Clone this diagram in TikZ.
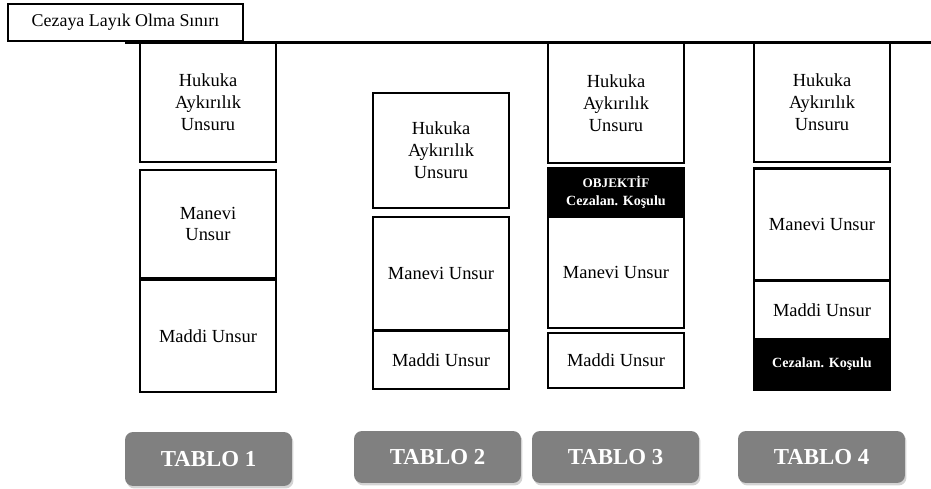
\documentclass[tikz,border=0pt]{standalone}
\usepackage{fontspec}
\setmainfont{Liberation Serif}
\usepackage{xcolor}
\usetikzlibrary{positioning, shadows}

\definecolor{tablogri}{HTML}{808080}

\tikzset{
	unsur/.style={draw, line width=1.3pt, fill=white, align=center, inner sep=0pt, outer sep=0pt,
		minimum width=2.72cm, font=\fontsize{10.5}{12.5}\selectfont},
	kosul/.style={draw, line width=1.3pt, fill=black, text=white, align=center, inner sep=0pt, outer sep=0pt,
		minimum width=2.72cm, font=\bfseries\fontsize{8}{10.5}\selectfont},
	tablo/.style={fill=tablogri, rounded corners=0.16cm, text=white, inner sep=0pt,
		minimum width=3.34cm, drop shadow={opacity=0.35, shadow xshift=0.03cm, shadow yshift=-0.05cm},
		font=\bfseries\fontsize{13}{15}\selectfont}
}

\begin{document}
\begin{tikzpicture}[x=0.02cm, y=-0.02cm]
		\useasboundingbox (0,0) rectangle (931,489);

		% sinir cizgisi
		\coordinate (Sinir bas) at (125,42.5);
		\coordinate (Sinir son) at (931,42.5);
		\draw[line width=1.7pt] (Sinir bas) -- (Sinir son);
		\node[draw, line width=1.4pt, fill=white, inner sep=0pt, minimum width=4.7cm, minimum height=0.74cm,
			font=\fontsize{10.2}{12}\selectfont] (Sinir) at (125.5,22.5) {Cezaya Layık Olma Sınırı};

		% tablo 1
		\node[unsur, minimum height=2.38cm] (Hukuka 1) at (208,102.5) {Hukuka\\
			Aykırılık\\
			Unsuru};
		\node[unsur, minimum height=2.16cm] (Manevi 1) at (208,224) {Manevi\\
			Unsur};
		\node[unsur, minimum height=2.24cm] (Maddi 1) at (208,336) {Maddi Unsur};

		% tablo 2
		\node[unsur, minimum height=2.30cm] (Hukuka 2) at (441,150.5) {Hukuka\\
			Aykırılık\\
			Unsuru};
		\node[unsur, minimum height=2.26cm] (Manevi 2) at (441,273.5) {Manevi Unsur};
		\node[unsur, minimum height=1.16cm] (Maddi 2) at (441,360) {Maddi Unsur};

		% tablo 3
		\node[unsur, minimum height=2.40cm] (Hukuka 3) at (616,103) {Hukuka\\
			Aykırılık\\
			Unsuru};
		\node[kosul, minimum height=0.98cm] (Objektif 3) at (616,192.5) {{\fontsize{7.5}{9}\selectfont OBJEKTİF}\\
			Cezalan. Koşulu};
		\node[unsur, minimum height=2.22cm] (Manevi 3) at (616,272.5) {Manevi Unsur};
		\node[unsur, minimum height=1.10cm] (Maddi 3) at (616,360.5) {Maddi Unsur};

		% tablo 4
		\node[unsur, minimum height=2.38cm] (Hukuka 4) at (822,102.5) {Hukuka\\
			Aykırılık\\
			Unsuru};
		\node[unsur, minimum height=2.24cm] (Manevi 4) at (822,224.5) {Manevi Unsur};
		\node[unsur, minimum height=1.18cm] (Maddi 4) at (822,310) {Maddi Unsur};
		\node[kosul, minimum height=1.02cm] (Kosul 4) at (822,364.5) {Cezalan. Koşulu};

		% etiketler
		\node[tablo, minimum height=1.08cm] (Tablo 1) at (208.5,459) {TABLO 1};
		\node[tablo, minimum height=1.04cm] (Tablo 2) at (437.5,457) {TABLO 2};
		\node[tablo, minimum height=1.04cm] (Tablo 3) at (615.5,457) {TABLO 3};
		\node[tablo, minimum height=1.04cm] (Tablo 4) at (821.5,457) {TABLO 4};
	\end{tikzpicture}
\end{document}
